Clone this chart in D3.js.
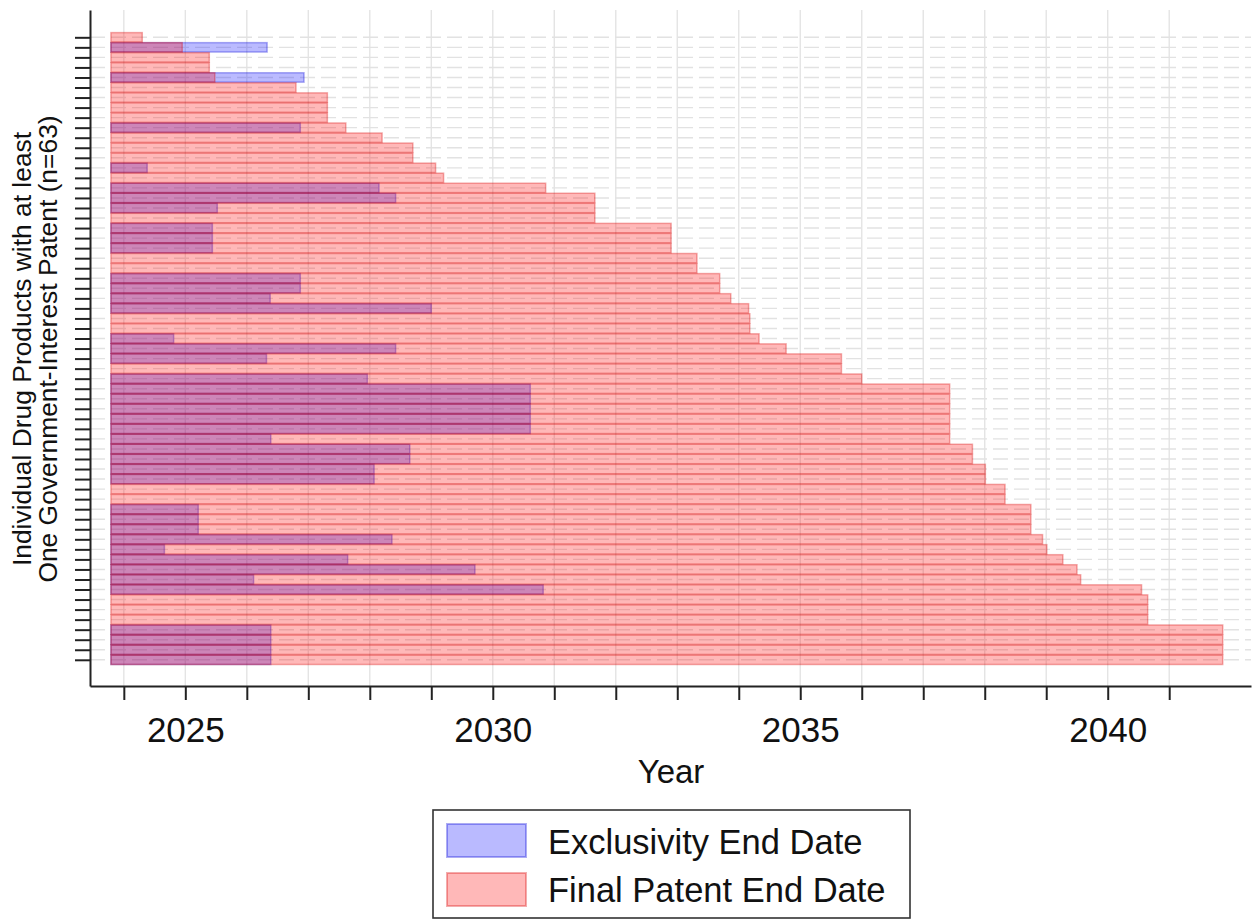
<!DOCTYPE html>
<html><head><meta charset="utf-8">
<script src="https://cdn.jsdelivr.net/npm/d3@7"></script>
<style>
body{margin:0;background:#fff}
text{font-family:"Liberation Sans", Arial, sans-serif; fill:#111}
</style>
</head><body>
<svg id="chart" width="1257" height="920"></svg>
<script>
// ---- data ----
const startYear = 2023.79;
const patentEnd = [
  2024.30, 2024.95, 2025.39, 2025.39, 2025.48, 2026.80, 2027.31, 2027.31, 2027.31, 2027.61,
  2028.20, 2028.70, 2028.70, 2029.07, 2029.20, 2030.86, 2031.66, 2031.66, 2031.66, 2032.90,
  2032.90, 2032.90, 2033.32, 2033.32, 2033.69, 2033.69, 2033.87, 2034.16, 2034.18, 2034.18,
  2034.33, 2034.77, 2035.67, 2035.67, 2036.00, 2037.43, 2037.43, 2037.43, 2037.43, 2037.43,
  2037.43, 2037.80, 2037.80, 2038.01, 2038.01, 2038.33, 2038.33, 2038.75, 2038.75, 2038.75,
  2038.94, 2039.01, 2039.27, 2039.50, 2039.56, 2040.55, 2040.65, 2040.65, 2040.65, 2041.87,
  2041.87, 2041.87, 2041.87
];
const exclusivityEnd = [
  null, 2026.33, null, null, 2026.93, null, null, null, null, 2026.87,
  null, null, null, 2024.38, null, 2028.15, 2028.42, 2025.52, null, 2025.44,
  2025.44, 2025.44, null, null, 2026.87, 2026.87, 2026.38, 2029.00, null, null,
  2024.81, 2028.42, 2026.32, null, 2027.96, 2030.61, 2030.61, 2030.61, 2030.61, 2030.61,
  2026.39, 2028.65, 2028.65, 2028.07, 2028.07, null, null, 2025.21, 2025.21, 2025.21,
  2028.36, 2024.66, 2027.64, 2029.71, 2026.11, 2030.82, null, null, null, 2026.39,
  2026.39, 2026.39, 2026.39
];
const xTickValues = d3.range(2024, 2042);
const xTickLabels = [2025, 2030, 2035, 2040];
const seriesNames = ["Exclusivity End Date", "Final Patent End Date"];
const xTitle = "Year";
const yTitleLines = ["Individual Drug Products with at least", "One Government-Interest Patent (n=63)"];

// ---- layout ----
const svg = d3.select("#chart");
const x = d3.scaleLinear().domain([2023.45, 2042.33]).range([90, 1251]);
const y = d3.scaleLinear().domain([-1.72, 65.61]).range([10, 686]);
const rows = d3.range(1, patentEnd.length + 1);
const barH = 9.4;

const redFill = "rgba(255,0,0,0.28)", redStroke = "rgba(215,0,0,0.32)";
const blueFill = "rgba(0,0,255,0.27)", blueStroke = "rgba(0,0,215,0.32)";

// grid
const grid = svg.append("g");
grid.selectAll("line.v").data(xTickValues).join("line")
  .attr("x1", d => x(d)).attr("x2", d => x(d))
  .attr("y1", y.range()[0]).attr("y2", y.range()[1])
  .attr("stroke", "#e4e4e4").attr("stroke-width", 1.4);
grid.selectAll("line.h").data(rows).join("line")
  .attr("x1", x.range()[0]).attr("x2", x.range()[1])
  .attr("y1", d => y(d)).attr("y2", d => y(d))
  .attr("stroke", "#e2e2e2").attr("stroke-width", 1.4)
  .attr("stroke-dasharray", "15,6");

// exclusivity bars (under)
svg.append("g").selectAll("rect")
  .data(rows.filter(r => exclusivityEnd[r - 1] != null))
  .join("rect")
  .attr("x", x(startYear))
  .attr("y", r => y(r) - barH / 2)
  .attr("width", r => x(exclusivityEnd[r - 1]) - x(startYear))
  .attr("height", barH)
  .attr("fill", blueFill).attr("stroke", blueStroke).attr("stroke-width", 1.5);

// patent bars (over)
svg.append("g").selectAll("rect")
  .data(rows)
  .join("rect")
  .attr("x", x(startYear))
  .attr("y", r => y(r) - barH / 2)
  .attr("width", r => x(patentEnd[r - 1]) - x(startYear))
  .attr("height", barH)
  .attr("fill", redFill).attr("stroke", redStroke).attr("stroke-width", 1.5);

// axes
const xAxis = svg.append("g").attr("transform", "translate(0,686)")
  .call(d3.axisBottom(x).tickValues(xTickValues).tickSize(14).tickSizeOuter(0)
    .tickFormat(d => xTickLabels.includes(d) ? String(d) : ""));
xAxis.selectAll("text").attr("dy", null).attr("y", 56).style("font-size", "35px")
  .style("font-family", "\"Liberation Sans\", Arial, sans-serif").attr("fill", "#111");
xAxis.selectAll("line").attr("stroke", "#222").attr("stroke-width", 2);
xAxis.select(".domain").attr("stroke", "#222").attr("stroke-width", 2);

const yAxis = svg.append("g").attr("transform", "translate(90,0)")
  .call(d3.axisLeft(y).tickValues(rows).tickSize(15).tickSizeOuter(0).tickFormat(""));
yAxis.selectAll("line").attr("stroke", "#222").attr("stroke-width", 2);
yAxis.select(".domain").attr("stroke", "#222").attr("stroke-width", 2);

// titles
svg.append("text").attr("x", 671).attr("y", 783).attr("text-anchor", "middle")
  .style("font-size", "33px").text(xTitle);
yTitleLines.forEach((t, i) => {
  svg.append("text").attr("transform", `translate(${31 + i * 26},349) rotate(-90)`)
    .attr("text-anchor", "middle").style("font-size", "26.4px").text(t);
});

// legend
const lg = svg.append("g");
lg.append("rect").attr("x", 433).attr("y", 810).attr("width", 477).attr("height", 108)
  .attr("fill", "#fff").attr("stroke", "#333").attr("stroke-width", 1.6);
const legendItems = [
  {name: seriesNames[0], fill: blueFill, stroke: blueStroke},
  {name: seriesNames[1], fill: redFill, stroke: redStroke}
];
legendItems.forEach((d, i) => {
  lg.append("rect").attr("x", 447).attr("y", 824 + i * 49).attr("width", 79).attr("height", 33)
    .attr("fill", d.fill).attr("stroke", d.stroke).attr("stroke-width", 2);
  lg.append("text").attr("x", 548).attr("y", 854 + i * 48).style("font-size", "34.5px").text(d.name);
});
</script>
</body></html>
